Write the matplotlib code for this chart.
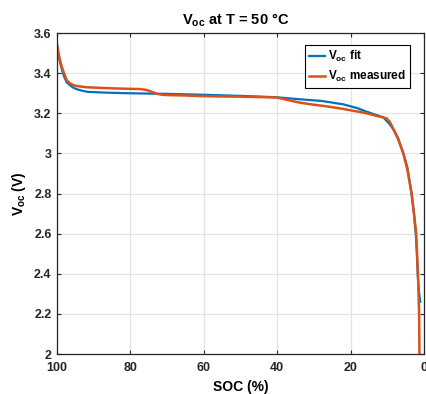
import matplotlib
matplotlib.use("Agg")
import matplotlib.pyplot as plt

plt.rcParams['font.family'] = ['Liberation Sans', 'DejaVu Sans']
plt.rcParams['font.weight'] = 'bold'
plt.rcParams['mathtext.fontset'] = 'custom'
plt.rcParams['mathtext.rm'] = 'Liberation Sans:bold'
plt.rcParams['mathtext.it'] = 'Liberation Sans:bold'
plt.rcParams['mathtext.bf'] = 'Liberation Sans:bold'

# Data
soc_meas = [100, 99.5, 99, 98.5, 98, 97.4, 96.5, 95.5, 94.6, 92, 88.3, 84, 80, 77.4, 75.5,
            74.7, 73.5, 72.8, 71.5, 70.1, 65, 61, 55, 50, 45, 40.1, 38, 36, 33.8, 30, 27,
            24.8, 22, 20, 17.5, 15.6, 13.5, 12, 11.1, 10.2, 9.3, 8.8, 8.2, 7, 5.6, 4.5,
            3.35, 2.7, 2.1, 1.6, 1.3, 1.2, 1.15]
v_meas = [3.54, 3.49, 3.45, 3.42, 3.395, 3.366, 3.35, 3.34, 3.336, 3.33, 3.327, 3.324, 3.322,
          3.321, 3.316, 3.311, 3.303, 3.297, 3.293, 3.291, 3.289, 3.286, 3.284, 3.283, 3.281,
          3.279, 3.27, 3.262, 3.253, 3.243, 3.236, 3.23, 3.222, 3.215, 3.207, 3.2, 3.19,
          3.183, 3.18, 3.175, 3.158, 3.14, 3.117, 3.07, 3.0, 2.92, 2.8, 2.7, 2.6, 2.4, 2.2,
          2.0, 1.9]

soc_fit = [100, 99.5, 99, 98.5, 98, 97.4, 96.5, 95.5, 94.6, 93, 91.6, 88, 84.6, 80, 70, 61,
           50, 40.1, 33.8, 28, 24.8, 22, 20.2, 18, 15.6, 13, 11.1, 9.5, 8.2, 7, 5.6, 4.5,
           3.35, 2.7, 2.2, 1.9, 1.7, 1.4, 1.0]
v_fit = [3.54, 3.48, 3.44, 3.405, 3.38, 3.355, 3.34, 3.327, 3.32, 3.312, 3.307, 3.304, 3.302,
         3.3, 3.297, 3.293, 3.287, 3.28, 3.27, 3.262, 3.253, 3.245, 3.236, 3.225, 3.208,
         3.192, 3.18, 3.15, 3.117, 3.075, 3.0, 2.93, 2.8, 2.7, 2.6, 2.5, 2.4, 2.32, 2.26]

xticks = [100, 80, 60, 40, 20, 0]
xticklabels = ['100', '80', '60', '40', '20', '0']
yticks = [2, 2.2, 2.4, 2.6, 2.8, 3.0, 3.2, 3.4, 3.6]
yticklabels = ['2', '2.2', '2.4', '2.6', '2.8', '3', '3.2', '3.4', '3.6']

fig = plt.figure(figsize=(4.26, 3.94), dpi=100)
ax = fig.add_axes([0.134, 0.1015, 0.861, 0.8145])

ax.plot(soc_fit, v_fit, color='#0072BD', lw=1.6, label=r'$\mathrm{V_{oc}}$ fit')
ax.plot(soc_meas, v_meas, color='#D95319', lw=1.8, label=r'$\mathrm{V_{oc}}$ measured')

ax.set_xlim(100, 0)
ax.set_ylim(2, 3.6)
ax.set_xticks(xticks)
ax.set_xticklabels(xticklabels)
ax.set_yticks(yticks)
ax.set_yticklabels(yticklabels)
ax.grid(True, color='#e3e3e3', lw=0.9)
ax.set_axisbelow(True)
for s in ax.spines.values():
    s.set_color('#262626')
    s.set_linewidth(0.9)
ax.tick_params(direction='in', top=True, right=True, length=3, width=0.8,
               colors='#262626', labelsize=9)
ax.tick_params(axis='x', pad=6)
ax.tick_params(axis='y', pad=4)
for lab in ax.get_xticklabels() + ax.get_yticklabels():
    lab.set_fontweight('bold')

ax.set_title(r'$\mathrm{V_{oc}}$ at T = 50 °C', fontsize=10.5, fontweight='bold', pad=6,
             x=0.488)
ax.set_xlabel('SOC (%)', fontsize=10, fontweight='bold', labelpad=4)
ax.set_ylabel(r'$\mathrm{V_{oc}}$ (V)', fontsize=10, fontweight='bold', labelpad=4)

leg = ax.legend(loc='upper right', bbox_to_anchor=(0.962, 0.963), borderaxespad=0,
                fontsize=8.5, fancybox=False, framealpha=1, edgecolor='black',
                handlelength=1.4, handletextpad=0.2, borderpad=0.35, labelspacing=0.4)
leg.get_frame().set_linewidth(0.8)

fig.savefig('out.png', dpi=100)
